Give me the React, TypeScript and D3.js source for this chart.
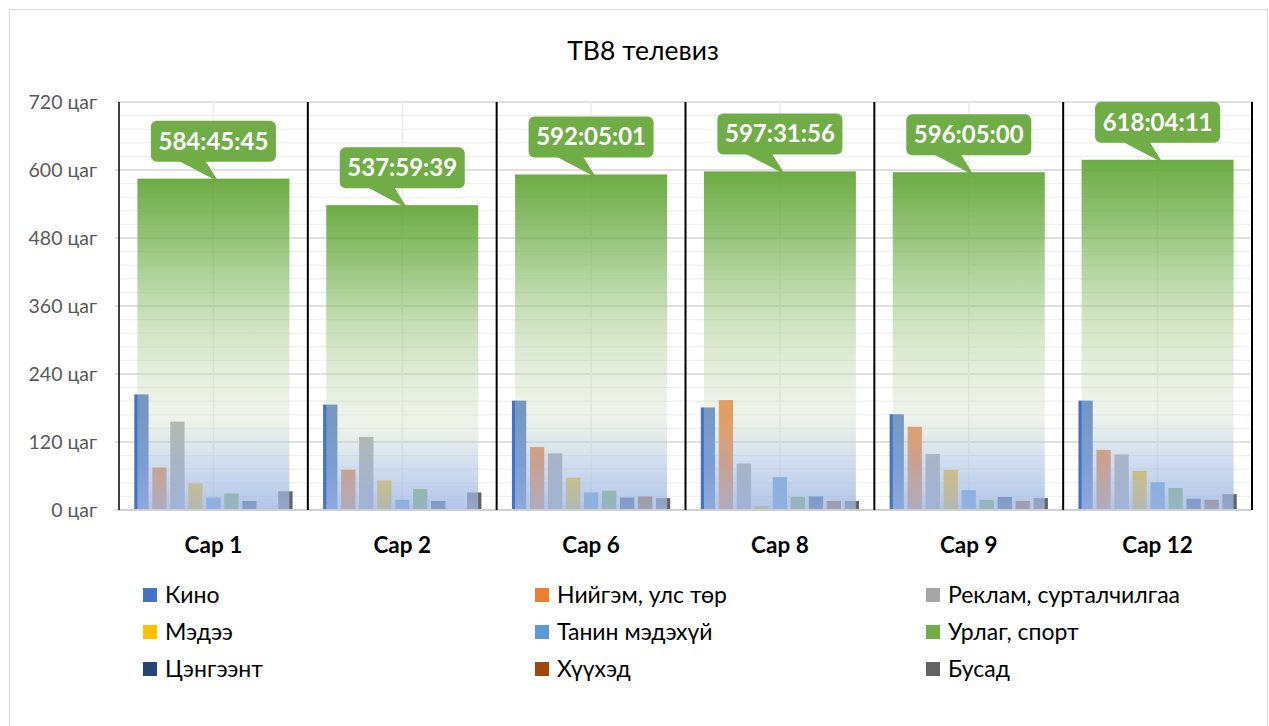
import React from "react";
import * as d3 from "d3";

const title = "ТВ8 телевиз";
const categories = ["Сар 1", "Сар 2", "Сар 6", "Сар 8", "Сар 9", "Сар 12"];
const totalLabels = ["584:45:45", "537:59:39", "592:05:01", "597:31:56", "596:05:00", "618:04:11"];
const totalHours = [584.76, 537.99, 592.08, 597.53, 596.08, 618.07];

const seriesNames = [
  "Кино",
  "Нийгэм, улс төр",
  "Реклам, сурталчилгаа",
  "Мэдээ",
  "Танин мэдэхүй",
  "Урлаг, спорт",
  "Цэнгээнт",
  "Хүүхэд",
  "Бусад",
];
const seriesColors = ["#4472C4", "#ED7D31", "#A5A5A5", "#FFC000", "#5B9BD5", "#70AD47", "#264478", "#9E480E", "#636363"];

const kino = [204, 186, 193, 181, 169, 193];
const niigem = [75, 71, 111, 194, 147, 106];
const reklam = [156, 129, 100, 82, 99, 98];
const medee = [47, 52, 57, 7, 71, 69];
const tanin = [22, 18, 31, 58, 35, 49];
const urlag = [29, 37, 34, 23, 18, 39];
const tsengeent = [16, 16, 22, 24, 23, 20];
const khuukhed = [0, 0, 24, 16, 16, 18];
const busad = [33, 31, 21, 16, 21, 28];
const seriesValues = [kino, niigem, reklam, medee, tanin, urlag, tsengeent, khuukhed, busad];

const yTicks = [0, 120, 240, 360, 480, 600, 720];
const yUnit = " цаг";

const W = 1269;
const H = 726;
const FONT = "Lato, 'Open Sans', sans-serif";

export default function App() {
  const left = 119;
  const right = 1252;
  const top = 102;
  const bottom = 510;

  const x = d3.scaleBand<string>().domain(categories).range([left, right]).padding(0);
  const y = d3.scaleLinear().domain([0, 720]).range([bottom, top]);
  const minorTicks = d3.range(0, 721, 24);

  const clusterHalf = 79.15;
  const totalHalf = 76;

  const legendCols = [143, 535, 926];
  const legendRows = [588, 625, 662];

  return (
    <svg
      width={W}
      height={H}
      style={{ position: "absolute", left: 0, top: 0, background: "#fff" }}
      fontFamily={FONT}
    >
      <defs>
        <linearGradient id="totGrad" x1="0" y1="0" x2="0" y2="1">
          <stop offset="0" stopColor="rgb(96,164,51)" stopOpacity={0.92} />
          <stop offset="0.19" stopColor="rgb(115,176,78)" stopOpacity={0.75} />
          <stop offset="0.39" stopColor="rgb(150,195,122)" stopOpacity={0.55} />
          <stop offset="0.6" stopColor="rgb(193,215,173)" stopOpacity={0.4} />
          <stop offset="0.72" stopColor="rgb(206,221,195)" stopOpacity={0.35} />
          <stop offset="0.86" stopColor="rgb(170,192,226)" stopOpacity={0.55} />
          <stop offset="1" stopColor="rgb(158,182,226)" stopOpacity={0.8} />
        </linearGradient>
      </defs>
      <rect x={9.5} y={9.5} width={1258} height={730} fill="#fff" stroke="#d9d9d9" strokeWidth={1} />

      <text x={643} y={60} textAnchor="middle" fontSize={26.5} fill="#000">
        {title}
      </text>

      {/* minor gridlines */}
      {minorTicks.map((t) => (
        <line key={"m" + t} x1={left} x2={right} y1={y(t)} y2={y(t)} stroke="#efefef" strokeWidth={1.2} />
      ))}
      {yTicks.map((t) => (
        <line key={"g" + t} x1={left - 4} x2={right} y1={y(t)} y2={y(t)} stroke="#d9d9d9" strokeWidth={1.5} />
      ))}
      {categories.map((c) => (
        <line
          key={"vc" + c}
          x1={x(c)! + x.bandwidth() / 2}
          x2={x(c)! + x.bandwidth() / 2}
          y1={top}
          y2={bottom}
          stroke="#ececec"
          strokeWidth={1.5}
        />
      ))}

      {/* clustered bars */}
      {categories.map((c, ci) => {
        const cx = x(c)! + x.bandwidth() / 2;
        const xs = d3
          .scaleBand<string>()
          .domain(seriesNames)
          .range([cx - clusterHalf, cx + clusterHalf])
          .paddingInner(0.2056)
          .paddingOuter(0);
        return (
          <g key={"cl" + c}>
            {seriesNames.map((s, si) => {
              const v = seriesValues[si][ci];
              if (!v) return null;
              return (
                <rect
                  key={s}
                  x={xs(s)!}
                  width={xs.bandwidth()}
                  y={y(v)}
                  height={y(0) - y(v)}
                  fill={seriesColors[si]}
                />
              );
            })}
          </g>
        );
      })}

      {/* total bars */}
      {categories.map((c, ci) => {
        const cx = x(c)! + x.bandwidth() / 2;
        return (
          <rect
            key={"tot" + c}
            x={cx - totalHalf}
            width={totalHalf * 2}
            y={y(totalHours[ci])}
            height={y(0) - y(totalHours[ci])}
            fill="url(#totGrad)"
          />
        );
      })}

      {/* axis lines */}
      <line x1={left} x2={right} y1={bottom} y2={bottom} stroke="#d0d0d0" strokeWidth={2} />
      {[...categories.map((c) => x(c)!), right].map((bx, i) => (
        <line key={"sep" + i} x1={bx} x2={bx} y1={top} y2={bottom} stroke="#000" strokeWidth={i === 0 ? 1.5 : 2} />
      ))}

      {/* y tick labels */}
      {yTicks.map((t) => (
        <text key={"yl" + t} x={97} y={y(t) + 6.5} textAnchor="end" fontSize={19.5} fill="#595959">
          {t + yUnit}
        </text>
      ))}

      {/* x labels */}
      {categories.map((c) => (
        <text
          key={"xl" + c}
          x={x(c)! + x.bandwidth() / 2}
          y={553}
          textAnchor="middle"
          fontSize={22.5}
          fontWeight="bold"
          fill="#000"
        >
          {c}
        </text>
      ))}

      {/* callouts */}
      {categories.map((c, ci) => {
        const cx = x(c)! + x.bandwidth() / 2;
        const bt = y(totalHours[ci]);
        const rb = bt - 17;
        const rt = rb - 41;
        const path = `M${cx - 35},${rb - 1} L${cx + 5},${bt + 3} L${cx - 8},${rb - 1} Z`;
        return (
          <g key={"co" + c}>
            <rect x={cx - 62.5} y={rt} width={125} height={41} rx={6} fill="#70AD47" />
            <path d={path} fill="#70AD47" />
            <text x={cx} y={rt + 29} textAnchor="middle" fontSize={24} fontWeight="bold" fill="#fff">
              {totalLabels[ci]}
            </text>
          </g>
        );
      })}

      {/* legend */}
      {seriesNames.map((s, i) => {
        const col = i % 3;
        const row = Math.floor(i / 3);
        const lx = legendCols[col];
        const ly = legendRows[row];
        return (
          <g key={"lg" + s}>
            <rect x={lx} y={ly} width={14} height={14} fill={seriesColors[i]} />
            <text x={lx + 22} y={ly + 14.5} fontSize={23} fill="#000">
              {s}
            </text>
          </g>
        );
      })}
    </svg>
  );
}
